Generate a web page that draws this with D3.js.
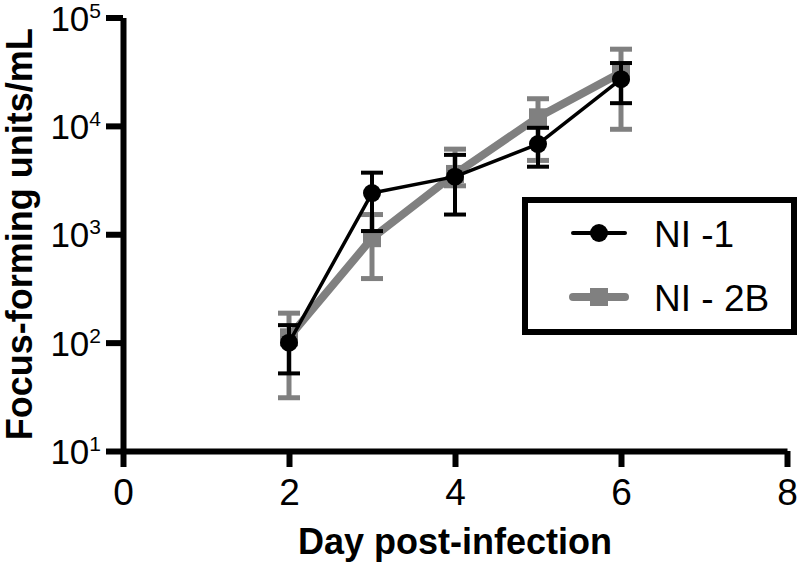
<!DOCTYPE html>
<html>
<head>
<meta charset="utf-8">
<script src="https://cdn.jsdelivr.net/npm/d3@7"></script>
<style>
  body { margin: 0; background: #fff; }
  text { font-family: "Liberation Sans", Arial, sans-serif; }
</style>
</head>
<body>
<div id="chart"></div>
<script>
// values (focus-forming units/mL, mean with error bar ends)
const days = [2, 3, 4, 5, 6];
const ni1Mean = [100, 2400, 3400, 6800, 27000];
const ni1Low = [52, 1070, 1520, 4200, 16200];
const ni1High = [145, 3700, 5400, 9600, 38000];
const ni2bMean = [112, 920, 3600, 12000, 31000];
const ni2bLow = [31, 390, 2800, 4800, 9300];
const ni2bHigh = [187, 1520, 6100, 17800, 51000];
const xTicks = [0, 2, 4, 6, 8];
const yTicks = [10, 100, 1000, 10000, 100000];

const width = 800, height = 568;
const svg = d3.select("#chart").append("svg")
  .attr("width", width).attr("height", height);

const x = d3.scaleLinear().domain([0, 8]).range([123, 787]);
const y = d3.scaleLog().domain([10, 1e5]).range([451, 17.5]);

// axes
const xAxis = svg.append("g")
  .attr("transform", `translate(0,${y(10)})`)
  .call(d3.axisBottom(x).tickValues(xTicks).tickSize(16).tickSizeOuter(0).tickPadding(12));
xAxis.select(".domain").attr("stroke-width", 6);
xAxis.selectAll(".tick line").attr("stroke-width", 6);
xAxis.selectAll(".tick text").attr("font-size", 37).attr("fill", "#000")
  .attr("font-family", "Liberation Sans, Arial, sans-serif");

const yAxis = svg.append("g")
  .attr("transform", `translate(${x(0)},0)`)
  .call(d3.axisLeft(y).tickValues(yTicks).tickSize(17).tickSizeOuter(0).tickFormat(""));
yAxis.select(".domain").attr("stroke-width", 6);
yAxis.selectAll(".tick line").attr("stroke-width", 6);
yAxis.selectAll(".tick").append("text")
  .attr("x", -22).attr("dy", "0.36em")
  .attr("text-anchor", "end").attr("fill", "#000")
  .attr("font-family", "Liberation Sans, Arial, sans-serif")
  .attr("font-size", 35)
  .each(function (d) {
    const t = d3.select(this);
    t.append("tspan").text("10");
    t.append("tspan").attr("font-size", 21).attr("dy", "-0.62em")
      .text(Math.round(Math.log10(d)));
  });

// axis titles
svg.append("text")
  .attr("transform", `translate(32,${(y(10) + y(1e5)) / 2}) rotate(-90)`)
  .attr("text-anchor", "middle").attr("font-weight", "bold").attr("font-size", 36)
  .text("Focus-forming units/mL");
svg.append("text")
  .attr("x", (x(0) + x(8)) / 2).attr("y", 554)
  .attr("text-anchor", "middle").attr("font-weight", "bold").attr("font-size", 36)
  .text("Day post-infection");

const series = [
  { name: "NI - 2B", mean: ni2bMean, low: ni2bLow, high: ni2bHigh, color: "#808080", lw: 8, ew: 5, marker: "square" },
  { name: "NI -1", mean: ni1Mean, low: ni1Low, high: ni1High, color: "#000", lw: 3.5, ew: 4, marker: "circle" }
];

const line = d3.line().x(d => x(d.day)).y(d => y(d.v));

series.forEach(s => {
  const pts = days.map((d, i) => ({ day: d, v: s.mean[i], lo: s.low[i], hi: s.high[i] }));
  const g = svg.append("g");
  // error bars
  const eb = g.selectAll(".eb").data(pts).join("g").attr("stroke", s.color).attr("stroke-width", s.ew);
  eb.append("line").attr("x1", d => x(d.day)).attr("x2", d => x(d.day))
    .attr("y1", d => y(d.lo)).attr("y2", d => y(d.hi));
  eb.append("line").attr("x1", d => x(d.day) - 11).attr("x2", d => x(d.day) + 11)
    .attr("y1", d => y(d.hi)).attr("y2", d => y(d.hi));
  eb.append("line").attr("x1", d => x(d.day) - 11).attr("x2", d => x(d.day) + 11)
    .attr("y1", d => y(d.lo)).attr("y2", d => y(d.lo));
  // line
  g.append("path").datum(pts).attr("d", line)
    .attr("fill", "none").attr("stroke", s.color).attr("stroke-width", s.lw)
    .attr("stroke-linejoin", "round");
  // markers
  if (s.marker === "circle") {
    g.selectAll("circle").data(pts).join("circle")
      .attr("cx", d => x(d.day)).attr("cy", d => y(d.v)).attr("r", 9).attr("fill", s.color);
  } else {
    g.selectAll("rect").data(pts).join("rect")
      .attr("x", d => x(d.day) - 9).attr("y", d => y(d.v) - 9)
      .attr("width", 18).attr("height", 18).attr("fill", s.color);
  }
});

// legend
const lg = svg.append("g");
lg.append("rect").attr("x", 525).attr("y", 200).attr("width", 269).attr("height", 132)
  .attr("fill", "#fff").attr("stroke", "#000").attr("stroke-width", 6);
const legendItems = [series[1], series[0]];
const ly = [233, 297];
legendItems.forEach((s, i) => {
  const cy = ly[i];
  lg.append("line").attr("x1", 573).attr("x2", 625).attr("y1", cy).attr("y2", cy)
    .attr("stroke", s.color).attr("stroke-width", s.marker === "circle" ? 4 : 8)
    .attr("stroke-linecap", "round");
  if (s.marker === "circle") {
    lg.append("circle").attr("cx", 599).attr("cy", cy).attr("r", 9).attr("fill", s.color);
  } else {
    lg.append("rect").attr("x", 590).attr("y", cy - 9).attr("width", 18).attr("height", 18).attr("fill", s.color);
  }
  lg.append("text").attr("x", 654).attr("y", cy + 14).attr("font-size", 37)
    .attr("xml:space", "preserve").style("white-space", "pre")
    .text(s.name);
});
</script>
</body>
</html>
